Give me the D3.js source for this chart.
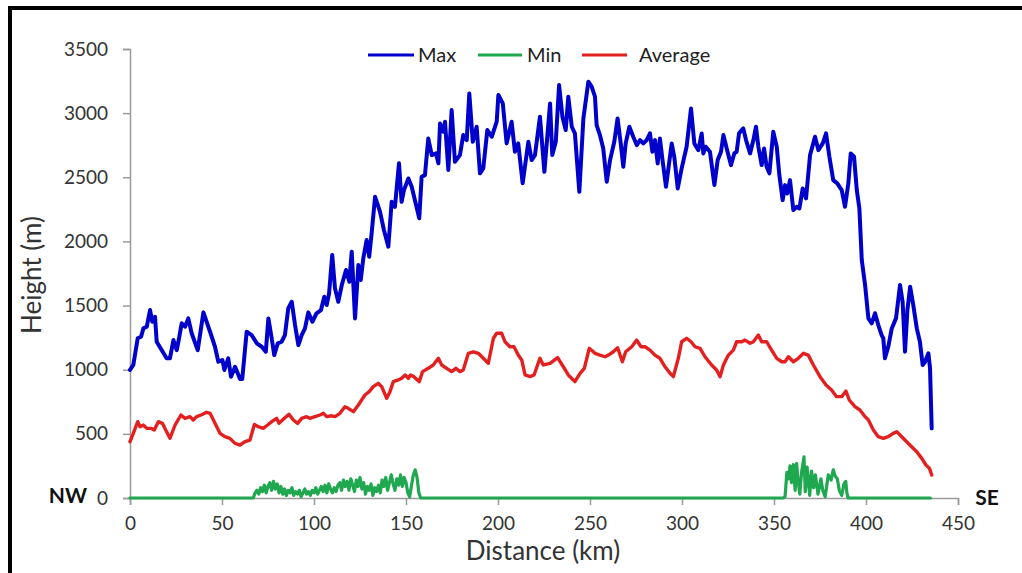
<!DOCTYPE html>
<html>
<head>
<meta charset="utf-8">
<script src="https://cdn.jsdelivr.net/npm/d3@7/dist/d3.min.js"></script>
<style>
  html, body { margin: 0; padding: 0; background: #fff; }
  svg { display: block; font-family: Lato, "Open Sans", sans-serif; }
</style>
</head>
<body>
<svg id="chart" width="1022" height="573"></svg>
<script>
// Elevation profile along the transect (distance in km, height in m)
const seriesNames = ["Max", "Min", "Average"];
const xTicks = [0, 50, 100, 150, 200, 250, 300, 350, 400, 450];
const yTicks = [0, 500, 1000, 1500, 2000, 2500, 3000, 3500];

const maxProfile = [[0,998],[1.8,1037],[4.2,1245],[6,1257],[7.3,1322],[9.1,1335],[10.9,1465],[12.1,1374],[13.6,1413],[14.5,1218],[17.2,1153],[19.9,1089],[21.7,1089],[23.6,1231],[25.4,1153],[26.3,1218],[28.1,1362],[29.9,1335],[31.7,1400],[33.5,1284],[36.8,1153],[39.9,1447],[43.5,1296],[46.2,1179],[48,1062],[50.2,1076],[51.3,998],[53.4,1089],[54.9,945],[57.1,1023],[59.8,927],[61,927],[63.4,1296],[66.1,1270],[68.9,1206],[71.6,1179],[73.8,1140],[75.2,1400],[77,1245],[78.4,1114],[80.3,1206],[82.4,1218],[84.2,1270],[86,1478],[87.9,1530],[89.7,1348],[91.5,1192],[93.3,1270],[95.1,1322],[96.9,1447],[99.1,1374],[101.4,1440],[103.8,1465],[105.6,1569],[106.9,1504],[108.2,1595],[109.9,1894],[111.4,1634],[113.2,1530],[115.1,1660],[117.4,1777],[119.2,1686],[120.5,1920],[122.3,1400],[124.1,1816],[125.4,1699],[126.8,1868],[128.6,2011],[130,1881],[131.4,2076],[133.2,2348],[135.9,2231],[138,2089],[140.4,1959],[142.2,2309],[144,2270],[146.2,2609],[147.6,2309],[148.9,2400],[151.3,2491],[153.1,2426],[157.2,2180],[158.5,2504],[160.3,2517],[162.1,2803],[164,2673],[166.3,2686],[167.6,2609],[168.5,2920],[170.3,2855],[171.2,2933],[173,2557],[174.8,3024],[176.6,2621],[179.3,2673],[181.1,2829],[183,2790],[184.4,3154],[186.3,2777],[188.4,2894],[190.2,2531],[192,2570],[194.2,2868],[196.6,2816],[199.3,2933],[200.2,3141],[202.6,3076],[204.7,2764],[207.4,2933],[209.2,2699],[211,2764],[213.4,2453],[216.5,2777],[218.3,2634],[220.1,2673],[222.8,2972],[225.2,2543],[228.3,3076],[229.5,2673],[231.4,2777],[233.2,3219],[235,2972],[236.8,2868],[238.2,3128],[240.1,2894],[241.8,2842],[244.2,2387],[246.4,2959],[249.1,3245],[250.9,3206],[252.7,3128],[253.6,2907],[255.4,2829],[257.2,2725],[259.1,2465],[260.9,2634],[263.2,2777],[265,2959],[266.8,2751],[268.1,2582],[269.4,2764],[271.4,2894],[273.5,2816],[275.4,2751],[277.2,2790],[279,2764],[280.8,2790],[282.6,2842],[283.9,2699],[285.3,2790],[286.8,2608],[288,2803],[289.3,2647],[291.3,2426],[294.4,2764],[295.8,2660],[297.7,2413],[299.8,2569],[302.5,2738],[304.9,3037],[306.7,2764],[308.9,2712],[310.7,2842],[311.6,2686],[312.9,2738],[315.2,2699],[317.6,2439],[319.4,2634],[321.2,2699],[322.5,2829],[324.3,2725],[326.6,2595],[328.4,2686],[329.7,2699],[331,2842],[333.3,2881],[334.8,2790],[337,2686],[338.8,2790],[340.2,2894],[341.5,2738],[343.3,2595],[344.6,2725],[346,2582],[347.5,2531],[349.6,2855],[351.5,2738],[352.9,2517],[354.7,2322],[356,2439],[357.2,2374],[358.7,2478],[360.5,2244],[362.3,2270],[363.8,2257],[365.6,2413],[367.4,2335],[369.6,2673],[372.3,2816],[374.1,2712],[376.5,2764],[378.3,2842],[380.1,2660],[382.2,2478],[384.4,2453],[386.8,2400],[388.6,2270],[390.4,2453],[391.7,2686],[393.5,2660],[395,2400],[396.4,2257],[397.7,1855],[399.5,1660],[401.3,1400],[403.1,1362],[404.9,1440],[406.7,1348],[408.5,1270],[409.4,1245],[410.3,1089],[412.1,1179],[414,1322],[416.3,1400],[418.5,1660],[419.9,1530],[421.2,1140],[422.5,1465],[424,1647],[425.7,1504],[427.6,1322],[429.3,1218],[430.8,1037],[432.1,1062],[433.9,1128],[434.8,1011],[435.7,543]];

const minProfile = [[0,0],[67,0],[68,40],[69,60],[70,30],[71,80],[72,50],[73,100],[74,40],[75,90],[76,120],[77,60],[78,130],[79,70],[80,110],[81,40],[82,90],[83,30],[84,70],[85,20],[86,60],[87,40],[88,80],[89,20],[90,50],[91,30],[92,60],[93,10],[94,40],[95,70],[96,30],[97,50],[98,20],[99,60],[100,40],[101,80],[102,30],[103,60],[104,90],[105,50],[106,100],[107,40],[108,110],[109,70],[110,40],[111,80],[112,50],[113,100],[114,120],[115,60],[116,140],[117,90],[118,130],[119,60],[120,150],[121,100],[122,50],[123,140],[124,90],[125,160],[126,70],[127,120],[128,30],[129,90],[130,60],[131,110],[132,20],[133,80],[134,50],[135,100],[136,40],[137,140],[138,90],[139,160],[140,60],[141,120],[142,180],[143,110],[144,60],[145,150],[146,100],[147,180],[148,90],[149,160],[150,120],[151,40],[152,10],[153,100],[154,180],[155,220],[156,160],[157,40],[158,0],[355,0],[356,10],[357,200],[358,150],[358.7,250],[359.5,120],[360.5,260],[361.5,60],[362.3,270],[363,150],[364,30],[365,200],[366.3,320],[367,50],[368,240],[368.8,120],[369.4,20],[370.4,210],[371.5,80],[372.5,180],[373.9,30],[375.5,150],[376.5,60],[377.8,10],[379.5,180],[381,140],[382.2,220],[383.3,170],[384.4,150],[385.5,60],[386.8,20],[388,110],[389,130],[389.6,40],[390.3,0],[435,0]];

const avgProfile = [[0,439],[1.8,504],[4.2,595],[5.4,556],[7.2,569],[9.1,543],[11.4,543],[13.2,530],[15.4,595],[17.6,582],[19.4,530],[21.7,465],[24.5,569],[27.7,647],[29.9,621],[32.6,634],[34.4,608],[36.2,634],[38.6,647],[41.7,668],[43.5,660],[45.8,595],[48.9,504],[51.6,478],[54.3,465],[57.1,426],[59.8,413],[62.5,439],[65.2,452],[67.6,574],[69.7,556],[72.4,543],[74.8,569],[77,595],[79.7,621],[81,582],[83.9,621],[86.4,652],[88.8,608],[91.1,582],[93.3,621],[96,634],[97.8,621],[100.5,634],[103.3,647],[105.1,660],[106.9,634],[109.6,641],[111.4,634],[114.1,660],[116.8,712],[118.6,699],[121.4,673],[124.1,725],[127.7,803],[130,829],[132.2,868],[134.9,894],[136.8,868],[139.5,777],[141.3,829],[143.1,907],[145.8,920],[147.7,933],[149.5,959],[151.3,933],[152.5,959],[154.3,946],[157.2,907],[159,985],[162.1,1011],[164.8,1037],[167.6,1089],[169.4,1037],[172.1,1011],[174.8,985],[177.1,1011],[179.3,985],[181.1,998],[183.9,1128],[186.6,1140],[189.3,1128],[192,1089],[194.7,1050],[197.5,1245],[199.3,1284],[202,1284],[203.8,1218],[206.5,1179],[208.7,1179],[211,1114],[212.9,1076],[214.7,959],[217.4,946],[219.6,959],[222.8,1089],[224.6,1037],[228.3,1050],[232.4,1094],[235.5,1023],[238.2,959],[241.8,907],[244.6,972],[246.9,1011],[249.6,1167],[252.7,1128],[255.4,1114],[258.2,1101],[260,1114],[262.7,1140],[265,1171],[267.6,1062],[269.4,1140],[272.7,1179],[275.4,1231],[277.7,1179],[279.9,1179],[282.6,1153],[285.3,1114],[288,1089],[290.8,1023],[293.5,972],[295.3,946],[298,1089],[299.8,1218],[302.5,1245],[304.9,1218],[307.1,1179],[309.8,1167],[312.5,1101],[316.1,1037],[318.8,998],[320.7,946],[322.5,1037],[325.2,1114],[327.9,1153],[329.7,1218],[332.5,1218],[334.2,1231],[337,1206],[338.8,1218],[341.5,1270],[343.3,1218],[346,1218],[348.7,1153],[351.5,1089],[354.2,1062],[356,1062],[357.8,1101],[360.5,1062],[363.2,1089],[366,1128],[368.6,1114],[371.4,1037],[375,946],[378.3,881],[381.3,842],[384,790],[386.8,790],[389.1,834],[390.9,764],[394,712],[396.7,686],[399.5,634],[401.3,608],[404,530],[406.7,478],[409.4,465],[412.1,478],[414.8,504],[416.7,517],[419.4,478],[422.1,439],[424.8,400],[427.6,361],[430.3,309],[432.6,257],[434.5,231],[435.7,179]];

const colors = { Max: "#0000cc", Min: "#1fa84f", Average: "#e3201f" };

const svg = d3.select("#chart");

// outer frame
svg.append("rect")
  .attr("x", 10).attr("y", 8)
  .attr("width", 1100).attr("height", 700)
  .attr("fill", "none").attr("stroke", "#000").attr("stroke-width", 4);

const x = d3.scaleLinear().domain([0, 450]).range([130, 958]);
const y = d3.scaleLinear().domain([0, 3500]).range([498, 49]);

const axisColor = "#9a9a9a";
const labelColor = "#333";

// y axis
const yAxis = svg.append("g")
  .attr("transform", "translate(130,0)")
  .call(d3.axisLeft(y).tickValues(yTicks).tickSize(7).tickPadding(15).tickFormat(d3.format("d")));
// x axis
const xAxis = svg.append("g")
  .attr("transform", "translate(0,498)")
  .call(d3.axisBottom(x).tickValues(xTicks).tickSize(7).tickPadding(12).tickFormat(d3.format("d")));

[yAxis, xAxis].forEach(g => {
  g.select(".domain").attr("stroke", axisColor).attr("stroke-width", 1.5);
  g.selectAll(".tick line").attr("stroke", axisColor).attr("stroke-width", 1.5);
  g.selectAll(".tick text").attr("fill", labelColor)
    .style("font-size", "19px").style("font-family", "Lato, sans-serif");
});

// lines
const line = d3.line().x(d => x(d[0])).y(d => y(d[1]));
const plot = svg.append("g").attr("fill", "none")
  .attr("stroke-linejoin", "round").attr("stroke-linecap", "round");
plot.append("path").datum(maxProfile)
  .attr("d", line).attr("stroke", colors.Max).attr("stroke-width", 4);
plot.append("path").datum(avgProfile)
  .attr("d", line).attr("stroke", colors.Average).attr("stroke-width", 3.4);
plot.append("path").datum(minProfile)
  .attr("d", line).attr("stroke", colors.Min).attr("stroke-width", 3.2);

// axis titles
svg.append("text")
  .attr("x", 543).attr("y", 560)
  .attr("text-anchor", "middle")
  .attr("fill", labelColor)
  .style("font-size", "26px")
  .text("Distance (km)");
svg.append("text")
  .attr("transform", "translate(41,275) rotate(-90)")
  .attr("text-anchor", "middle")
  .attr("fill", labelColor)
  .style("font-size", "26px")
  .text("Height (m)");

// direction markers
svg.append("text").attr("x", 68).attr("y", 503)
  .attr("text-anchor", "middle").attr("font-weight", "bold")
  .attr("fill", "#111").style("font-size", "21px").text("NW");
svg.append("text").attr("x", 987).attr("y", 505)
  .attr("text-anchor", "middle").attr("font-weight", "bold")
  .attr("fill", "#111").style("font-size", "21px").text("SE");

// legend
const legendItems = [
  { name: seriesNames[0], x0: 368, x1: 414, tx: 418 },
  { name: seriesNames[1], x0: 478, x1: 522, tx: 527 },
  { name: seriesNames[2], x0: 582, x1: 627, tx: 639 }
];
const legend = svg.append("g");
legendItems.forEach(it => {
  legend.append("line")
    .attr("x1", it.x0).attr("x2", it.x1).attr("y1", 55).attr("y2", 55)
    .attr("stroke", colors[it.name]).attr("stroke-width", 3);
  legend.append("text")
    .attr("x", it.tx).attr("y", 62)
    .attr("fill", "#222").style("font-size", "20px")
    .text(it.name);
});
</script>
</body>
</html>
